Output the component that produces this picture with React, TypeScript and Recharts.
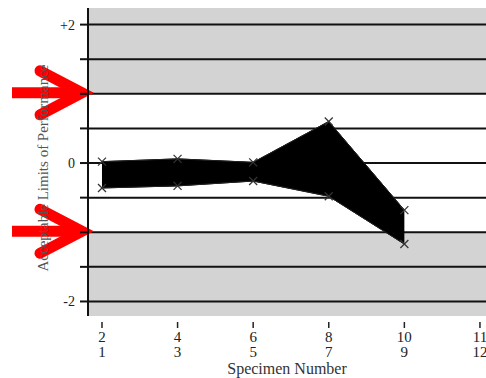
import {
  Area,
  ComposedChart,
  Line,
  ReferenceArea,
  ReferenceLine,
  XAxis,
  YAxis,
} from 'recharts';

// specimen pairs, one x position per pair
const pairIndex = [0, 1, 2, 3, 4];
const evenSpecimens = [0.02, 0.06, 0.01, 0.6, -0.68];
const oddSpecimens = [-0.36, -0.33, -0.26, -0.48, -1.17];

const xTicks = [0, 1, 2, 3, 4, 5];
const xTopLabels = ['2', '4', '6', '8', '10', '11'];
const xBottomLabels = ['1', '3', '5', '7', '9', '12'];

const yTicks = [-2, -1.5, -1, -0.5, 0, 0.5, 1, 1.5, 2];
const yLabelled: Record<string, string> = { '2': '+2', '0': '0', '-2': '-2' };
const yDomain: [number, number] = [-2.21, 2.24];
const limits = [-1, 1];

const data = pairIndex.map((idx, i) => ({
  idx,
  even: evenSpecimens[i],
  odd: oddSpecimens[i],
  band: [oddSpecimens[i], evenSpecimens[i]],
}));

const FONT = '"Liberation Serif", "Times New Roman", serif';

const YTick = (props: any) => {
  const label = yLabelled[String(props.payload.value)];
  if (!label) return null;
  return (
    <text
      x={75}
      y={props.y}
      dy="0.35em"
      textAnchor="end"
      fontSize={14}
      fontFamily={FONT}
      fill="#222"
    >
      {label}
    </text>
  );
};

const XTick = (props: any) => {
  const i = xTicks.indexOf(props.payload.value);
  const x = props.x;
  return (
    <g>
      <line x1={x} x2={x} y1={322} y2={328} stroke="#222" strokeWidth={1.5} />
      <text x={x} y={342} textAnchor="middle" fontSize={15} fontFamily={FONT} fill="#222">
        {xTopLabels[i]}
      </text>
      <text x={x} y={357} textAnchor="middle" fontSize={15} fontFamily={FONT} fill="#222">
        {xBottomLabels[i]}
      </text>
    </g>
  );
};

const XMark = (props: any) => {
  const { cx, cy } = props;
  if (cx == null || cy == null) return null;
  const s = 4;
  return (
    <g stroke="#333" strokeWidth={1.2}>
      <line x1={cx - s} y1={cy - s} x2={cx + s} y2={cy + s} />
      <line x1={cx - s} y1={cy + s} x2={cx + s} y2={cy - s} />
    </g>
  );
};

const RedArrow = (props: any) => {
  const vb = props.viewBox || {};
  const tipX = vb.x - 2;
  const y = vb.y - 1;
  return (
    <g stroke="#ff0000" strokeWidth={11} fill="none">
      <line x1={12} y1={y} x2={tipX - 6} y2={y} />
      <polyline
        points={`${tipX - 46},${y - 22} ${tipX - 4},${y} ${tipX - 46},${y + 22}`}
        strokeLinecap="round"
        strokeLinejoin="miter"
      />
    </g>
  );
};

const YLabel = (props: any) => {
  const vb = props.viewBox || {};
  const cy = vb.y + vb.height / 2 + 6;
  return (
    <text
      x={0}
      y={0}
      transform={`translate(48, ${cy}) rotate(-90)`}
      textAnchor="middle"
      fontSize={15}
      fontFamily={FONT}
      fill="#555"
    >
      Acceptable Limits of Performance
    </text>
  );
};

const App = () => {
  return (
    <div
      style={{
        position: 'absolute',
        left: 0,
        top: 0,
        width: 486,
        height: 378,
        background: '#fff',
        overflow: 'hidden',
      }}
    >
      <ComposedChart
        width={486}
        height={378}
        data={data}
        margin={{ top: 8, right: 0, bottom: 0, left: 28 }}
      >
        <ReferenceArea
          y1={limits[1]}
          y2={yDomain[1]}
          fill="#d3d3d3"
          fillOpacity={1}
          stroke="none"
          zIndex={-50}
        />
        <ReferenceArea
          y1={yDomain[0]}
          y2={limits[0]}
          fill="#d3d3d3"
          fillOpacity={1}
          stroke="none"
          zIndex={-50}
        />
        {yTicks.map((v) => (
          <ReferenceLine
            key={v}
            y={v}
            stroke="#111"
            strokeWidth={2}
            zIndex={-10}
            label={limits.includes(v) ? <RedArrow /> : undefined}
          />
        ))}
        <XAxis
          type="number"
          dataKey="idx"
          domain={[-0.185, 5.08]}
          ticks={xTicks}
          axisLine={false}
          tickLine={false}
          height={62}
          tick={<XTick />}
          label={{
            value: 'Specimen Number',
            position: 'insideBottom',
            offset: 4,
            fontSize: 16,
            fontFamily: FONT,
            fill: '#333',
          }}
        />
        <YAxis
          type="number"
          domain={yDomain}
          ticks={yTicks}
          width={60}
          axisLine={{ stroke: '#111', strokeWidth: 2 }}
          tickLine={{ stroke: '#111', strokeWidth: 2 }}
          tickSize={8}
          tick={<YTick />}
          label={<YLabel />}
        />
        <Area
          dataKey="band"
          type="linear"
          fill="#000"
          fillOpacity={1}
          stroke="#000"
          strokeWidth={1}
          isAnimationActive={false}
        />
        <Line
          dataKey="even"
          type="linear"
          stroke="#222"
          strokeWidth={1}
          dot={<XMark />}
          activeDot={false}
          isAnimationActive={false}
        />
        <Line
          dataKey="odd"
          type="linear"
          stroke="#222"
          strokeWidth={1}
          dot={<XMark />}
          activeDot={false}
          isAnimationActive={false}
        />
      </ComposedChart>
    </div>
  );
};

export default App;
